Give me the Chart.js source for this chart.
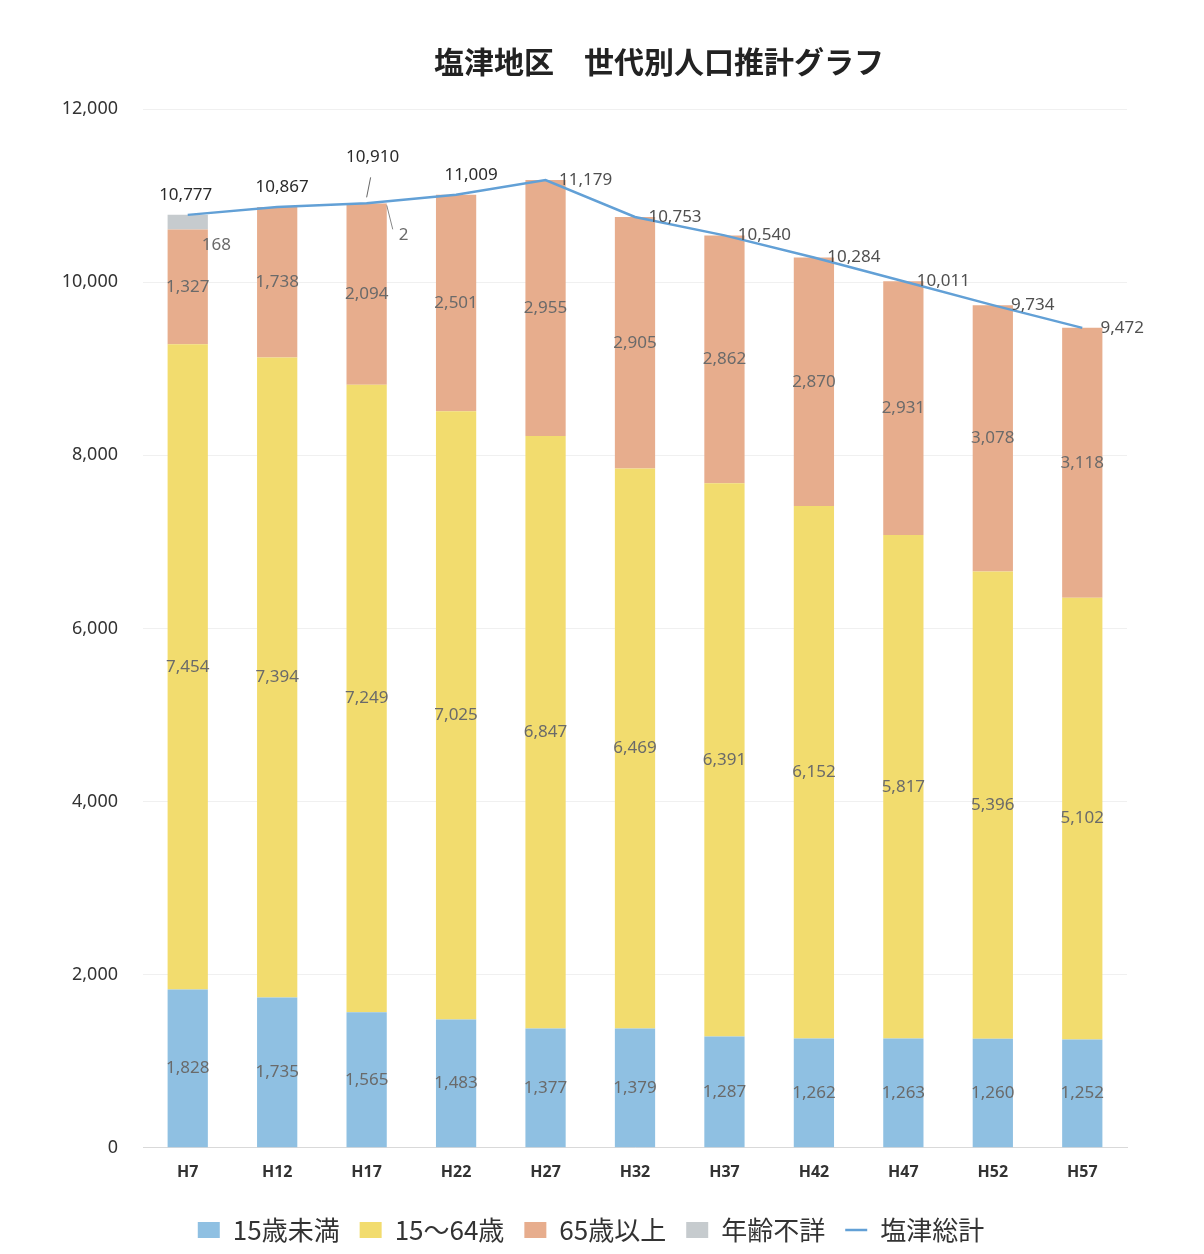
<!DOCTYPE html>
<html>
<head>
<meta charset="utf-8">
<script src="https://cdn.jsdelivr.net/npm/chart.js@4"></script>
<style>
  html, body { margin: 0; padding: 0; background: #ffffff; }
  #wrap { width: 1204px; height: 1254px; }
</style>
</head>
<body>
<div id="wrap"><canvas id="popChart"></canvas></div>
<script>
// data
var years = ["H7", "H12", "H17", "H22", "H27", "H32", "H37", "H42", "H47", "H52", "H57"];
var under15 = [1828, 1735, 1565, 1483, 1377, 1379, 1287, 1262, 1263, 1260, 1252];
var age15to64 = [7454, 7394, 7249, 7025, 6847, 6469, 6391, 6152, 5817, 5396, 5102];
var over65 = [1327, 1738, 2094, 2501, 2955, 2905, 2862, 2870, 2931, 3078, 3118];
var unknownAge = [168, 0, 2, 0, 0, 0, 0, 0, 0, 0, 0];
var totals = [10777, 10867, 10910, 11009, 11179, 10753, 10540, 10284, 10011, 9734, 9472];
var yMax = 12000;
var yStep = 2000;
var titleText = "塩津地区　世代別人口推計グラフ";

var numFont = "'Noto Sans', 'Noto Sans CJK JP', sans-serif";
var jpFont = "'Noto Sans CJK JP', sans-serif";

function fmt(v) {
    return v.toLocaleString("en-US");
}

// title sits a bit right of centre in the original, so draw it here
var titleDraw = {
    id: "titleDraw",
    afterDraw: function (chart) {
        var ctx = chart.ctx;
        ctx.save();
        ctx.font = "bold 30px " + jpFont;
        ctx.fillStyle = "#222";
        ctx.textAlign = "center";
        ctx.textBaseline = "middle";
        ctx.fillText(titleText, 659, 62);
        ctx.restore();
    }
};

// value labels drawn on the segments and on the total line
var valueLabels = {
    id: "valueLabels",
    afterDatasetsDraw: function (chart) {
        var ctx = chart.ctx;
        ctx.save();
        ctx.textAlign = "center";
        ctx.textBaseline = "middle";

        // stacked segments
        [0, 1, 2].forEach(function (di) {
            var meta = chart.getDatasetMeta(di);
            var values = chart.data.datasets[di].data;
            meta.data.forEach(function (bar, i) {
                if (!values[i]) return;
                ctx.font = "17px " + numFont;
                ctx.fillStyle = "#6a6a6a";
                ctx.fillText(fmt(values[i]), bar.x, (bar.y + bar.base) / 2);
            });
        });

        // 年齢不詳: small values, label beside the bar with a leader
        var uMeta = chart.getDatasetMeta(3);
        uMeta.data.forEach(function (bar, i) {
            var v = unknownAge[i];
            if (!v) return;
            var half = bar.width / 2;
            ctx.font = "17px " + numFont;
            ctx.fillStyle = "#6a6a6a";
            ctx.textAlign = "left";
            if (v > 50) {
                ctx.fillText(fmt(v), bar.x + half - 6, bar.base + 16);
            } else {
                ctx.strokeStyle = "#888";
                ctx.lineWidth = 1;
                ctx.beginPath();
                ctx.moveTo(bar.x + half, bar.y + 2);
                ctx.lineTo(bar.x + half + 6, bar.y + 26);
                ctx.stroke();
                ctx.fillText(fmt(v), bar.x + half + 12, bar.y + 32);
            }
            ctx.textAlign = "center";
        });

        // 塩津総計
        var lMeta = chart.getDatasetMeta(4);
        ctx.font = "17px " + numFont;
        lMeta.data.forEach(function (pt, i) {
            var x = pt.x, y = pt.y;
            ctx.fillStyle = i < 4 ? "#2a2a2a" : "#505050";
            if (unknownAge[i] > 0 && unknownAge[i] < 50) {
                ctx.strokeStyle = "#666";
                ctx.lineWidth = 1;
                ctx.beginPath();
                ctx.moveTo(x, y - 6);
                ctx.lineTo(x + 4, y - 26);
                ctx.stroke();
                ctx.fillText(fmt(totals[i]), x + 6, y - 46);
            } else if (i < 4) {
                ctx.fillText(fmt(totals[i]), x + (i === 0 ? -2 : i * 5), y - 20);
            } else {
                ctx.fillText(fmt(totals[i]), x + 40, y);
            }
        });
        ctx.restore();
    }
};

var ctx = document.getElementById("popChart").getContext("2d");
var popChart = new Chart(ctx, {
    type: "bar",
    data: {
        labels: years,
        datasets: [
            {
                label: "15歳未満",
                data: under15,
                backgroundColor: "#8fc0e2",
                pointStyle: "rect",
                stack: "pop",
                order: 2,
            },
            {
                label: "15～64歳",
                data: age15to64,
                backgroundColor: "#f2dc6e",
                pointStyle: "rect",
                stack: "pop",
                order: 2,
            },
            {
                label: "65歳以上",
                data: over65,
                backgroundColor: "#e7ad8d",
                pointStyle: "rect",
                stack: "pop",
                order: 2,
            },
            {
                label: "年齢不詳",
                data: unknownAge,
                backgroundColor: "#c6cbce",
                pointStyle: "rect",
                stack: "pop",
                order: 2,
            },
            {
                type: "line",
                label: "塩津総計",
                data: totals,
                borderColor: "#62a0d6",
                backgroundColor: "#62a0d6",
                borderWidth: 2.5,
                pointRadius: 0,
                pointStyle: "line",
                stack: "total",
                order: 1,
            },
        ],
    },
    options: {
        responsive: true,
        maintainAspectRatio: false,
        animation: false,
        layout: {
            padding: { left: 55, right: 77, top: 109, bottom: 1 },
        },
        datasets: {
            bar: {
                categoryPercentage: 1,
                barPercentage: 0.45,
            },
        },
        scales: {
            x: {
                stacked: true,
                grid: { display: false, drawTicks: false },
                border: { color: "#d9d9d9", width: 1 },
                ticks: {
                    color: "#333",
                    padding: 15,
                    font: { family: numFont, size: 16, weight: "bold" },
                },
            },
            y: {
                stacked: true,
                min: 0,
                max: yMax,
                grid: { color: "#f0f0f0", drawTicks: false },
                border: { display: false },
                ticks: {
                    stepSize: yStep,
                    color: "#333",
                    padding: 25,
                    font: { family: numFont, size: 18 },
                    callback: function (v) { return fmt(v); },
                },
                afterFit: function (scale) { scale.width = 88; },
            },
        },
        plugins: {
            title: { display: false },
            legend: {
                position: "bottom",
                labels: {
                    usePointStyle: true,
                    pointStyleWidth: 22,
                    boxHeight: 16,
                    padding: 20,
                    color: "#333",
                    font: { family: jpFont, size: 26 },
                    sort: function (a, b) { return a.datasetIndex - b.datasetIndex; },
                },
            },
            tooltip: { enabled: false },
        },
    },
    plugins: [valueLabels, titleDraw],
});
</script>
</body>
</html>
